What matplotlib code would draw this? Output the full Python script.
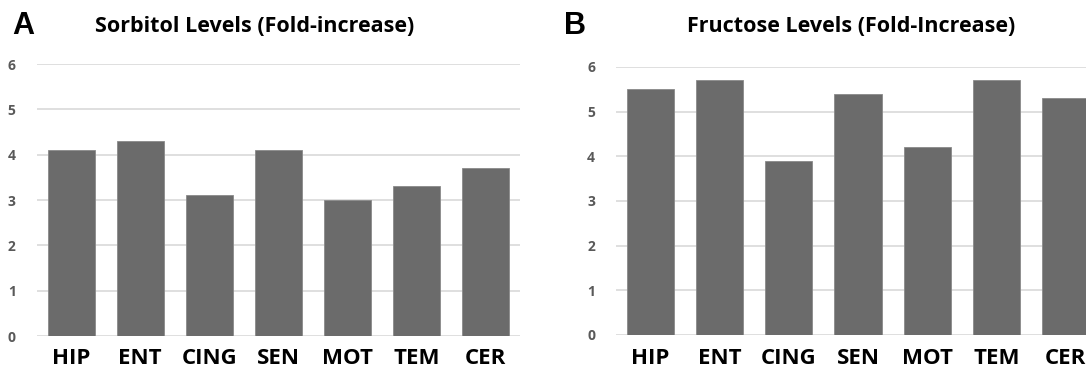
import matplotlib
matplotlib.use('Agg')
import matplotlib.pyplot as plt
import numpy as np

regions  = ['HIP', 'ENT', 'CING', 'SEN', 'MOT', 'TEM', 'CER']
sorbitol = [4.1, 4.3, 3.1, 4.1, 3.0, 3.3, 3.7]
fructose = [5.5, 5.7, 3.9, 5.4, 4.2, 5.7, 5.3]
yticks   = [0, 1, 2, 3, 4, 5, 6]

barCol  = '#6b6b6b'
gridCol = '#d9d9d9'
font    = 'Open Sans'

W, H = 1086.0, 372.0
fig = plt.figure(figsize=(W / 100, H / 100), dpi=100)

def panel(box, vals, title, titleX, letter, letterX):
    l, t, r, b = box
    ax = fig.add_axes([l / W, 1 - b / H, (r - l) / W, (b - t) / H])
    x = np.arange(len(regions))
    ax.bar(x, vals, width=0.68, color=barCol, edgecolor='#8a8a8a', linewidth=0.6, zorder=3)
    ax.set_xlim(-0.5, len(regions) - 0.5)
    ax.set_ylim(0, 6)
    ax.set_yticks(yticks)
    ax.set_xticks(x)
    ax.set_xticklabels(regions, fontfamily=font, fontweight='bold', fontsize=16, color='black')
    ax.set_yticklabels([str(v) for v in yticks], fontfamily=font, fontweight='bold', fontsize=10, color='#595959')
    ax.tick_params(axis='both', length=0)
    ax.tick_params(axis='y', pad=15)
    ax.tick_params(axis='x', pad=9)
    ax.grid(axis='y', color=gridCol, linewidth=1.2, zorder=0)
    for s in ax.spines.values():
        s.set_visible(False)
    fig.text(titleX / W, 1 - 27 / H, title, ha='left', va='center',
             fontfamily=font, fontweight='bold', fontsize=15.5, color='black')
    fig.text(letterX / W, 1 - 26 / H, letter, ha='left', va='center',
             fontfamily='Liberation Sans', fontweight='bold', fontsize=22, color='black')
    return ax

panel((36.5, 64, 520, 336), sorbitol, 'Sorbitol Levels (Fold-increase)', 95, 'A', 12)
panel((616, 67, 1100, 335), fructose, 'Fructose Levels (Fold-Increase)', 687, 'B', 564)

fig.savefig('out.png', dpi=100)
